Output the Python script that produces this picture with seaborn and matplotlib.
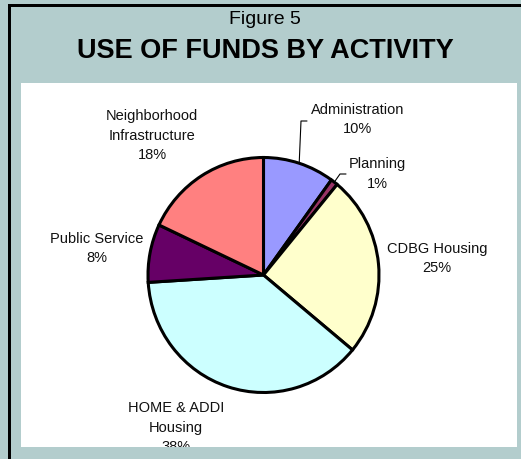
import numpy as np
import matplotlib
matplotlib.use('Agg')
import matplotlib.pyplot as plt
from matplotlib.patches import Rectangle
import seaborn as sns

# data (clockwise from 12 o'clock)
activities = ['Administration', 'Planning', 'CDBG Housing', 'HOME & ADDI\nHousing',
              'Public Service', 'Neighborhood\nInfrastructure']
shares = [10, 1, 25, 38, 8, 18]
colors = ['#9999FF', '#993366', '#FFFFCC', '#CCFFFF', '#660066', '#FF8080']

sns.set_style('white')
plt.rcParams['font.family'] = ['Liberation Sans', 'DejaVu Sans']
plt.rcParams['text.color'] = 'black'

W, H = 521, 460
fig = plt.figure(figsize=(W / 100, H / 100), dpi=100)
fig.patch.set_facecolor('#B3CDCD')
fig.patch.set_edgecolor('none')

# black frame lines on the left and top
fig.add_artist(Rectangle((8 / W, 0), 2.5 / W, 1 - 5 / H, transform=fig.transFigure,
                         color='black', lw=0))
fig.add_artist(Rectangle((8 / W, 1 - 7.5 / H), 1, 2.5 / H, transform=fig.transFigure,
                         color='black', lw=0))

# white plot area, using pixel coordinates as data units
px0, px1, py_top, py_bot = 21, 517, 84, 448
bg = fig.add_axes([px0 / W, (H - py_bot) / H, (px1 - px0) / W, (py_bot - py_top) / H])
bg.set_facecolor('white')
bg.set_xlim(px0, px1)
bg.set_ylim(H - py_bot, H - py_top)
bg.set_xticks([])
bg.set_yticks([])
for s in bg.spines.values():
    s.set_visible(False)

# pie axes
cx, cy = 263.5, H - 276
rx, ry = 115.5, 117.5
ax = fig.add_axes([(cx - rx) / W, (cy - ry) / H, 2 * rx / W, 2 * ry / H])
wedges, _ = ax.pie(shares, colors=colors, startangle=90, counterclock=False, radius=1,
                   wedgeprops=dict(edgecolor='black', linewidth=2.2))
for w in wedges:
    w.set_clip_on(False)
ax.set_aspect('auto')
ax.set_xlim(-1, 1)
ax.set_ylim(-1, 1)
ax.axis('off')

# labels (layout positions in pixels from top-left)
label_pos = [(358, 119.5), (377, 174), (437, 258.5), (176, 428), (97, 248.5), (152, 135.5)]
for name, share, (lx, ly) in zip(activities, shares, label_pos):
    bg.text(lx, H - ly, f'{name}\n{share}%', ha='center', va='center', fontsize=10.5,
            linespacing=1.5, color='#111111', clip_on=True)

# leader lines for the two small slices
angles = 90 - 360 * (np.cumsum(shares) - np.array(shares) / 2) / sum(shares)
leaders = {0: [(301, 122), (307, 122)], 1: [(340, 175), (346, 175)]}
for i, pts in leaders.items():
    a = np.deg2rad(angles[i])
    x0, y0 = cx + rx * np.cos(a), cy + ry * np.sin(a)
    xs = [x0] + [p[0] for p in pts]
    ys = [y0] + [H - p[1] for p in pts]
    bg.plot(xs, ys, color='black', lw=0.8, zorder=1)

fig.text(265 / W, 1 - 20 / H, 'Figure 5', ha='center', va='center', fontsize=14,
         color='black')
fig.text(265 / W, 1 - 51 / H, 'USE OF FUNDS BY ACTIVITY', ha='center', va='center',
         fontsize=19.5, fontweight='bold', color='black')

fig.savefig('out.png', dpi=100, facecolor=fig.get_facecolor(), edgecolor='none')
